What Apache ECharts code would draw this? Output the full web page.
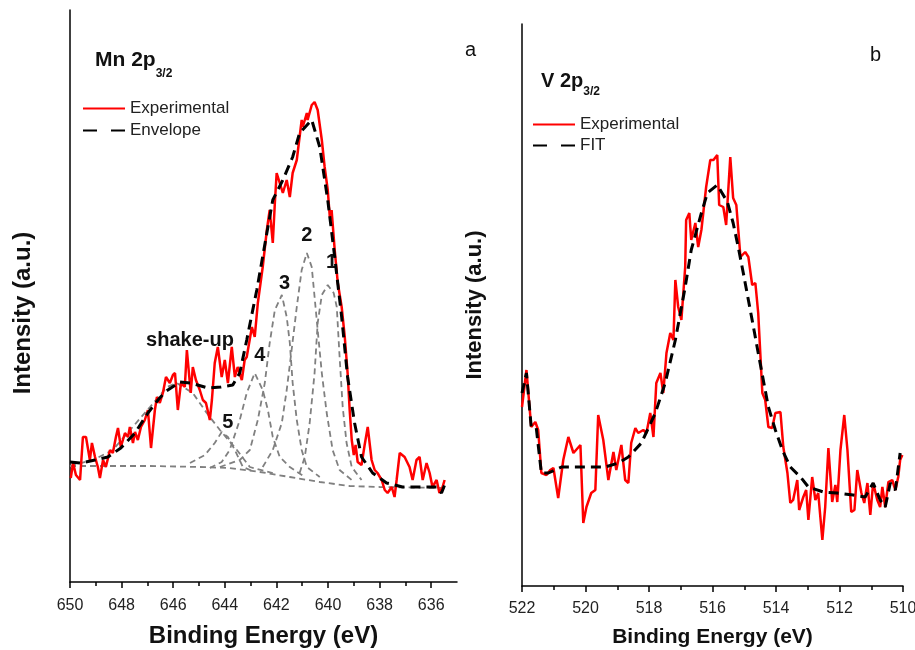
<!DOCTYPE html>
<html>
<head>
<meta charset="utf-8">
<script src="https://cdn.jsdelivr.net/npm/echarts@6/dist/echarts.min.js"></script>
<style>
  html, body { margin: 0; padding: 0; background: #fff; }
  #chart { width: 915px; height: 650px; }
</style>
</head>
<body>
<div id="chart"></div>
<script>
// ---- data: [binding energy (eV), intensity (a.u.)] ----
var mnTicks = [650, 648, 646, 644, 642, 640, 638, 636];
var mnMinor = [649, 647, 645, 643, 641, 639, 637];
var vTicks = [522, 520, 518, 516, 514, 512, 510];
var vMinor = [521, 519, 517, 515, 513, 511];

var mnExp = [[649.97,104],[649.88,119],[649.77,107],[649.61,102],[649.50,145],[649.38,145],[649.23,122],[649.15,139],
  [649.03,125],[648.92,115],[648.84,104],[648.72,122],[648.61,115],[648.45,132],[648.34,129],[648.22,145],[648.14,154],
  [648.03,135],[647.87,149],[647.75,145],[647.68,155],[647.56,139],[647.48,150],[647.37,142],[647.25,155],[647.10,162],
  [646.98,172],[646.86,134],[646.71,172],[646.63,185],[646.52,179],[646.40,189],[646.28,205],[646.13,199],[646.01,207],
  [645.93,209],[645.82,172],[645.70,199],[645.55,195],[645.47,232],[645.32,189],[645.24,215],[645.12,202],[644.97,192],
  [644.85,182],[644.73,179],[644.58,162],[644.50,182],[644.39,219],[644.27,235],[644.12,205],[644.00,222],[643.88,199],
  [643.73,235],[643.61,205],[643.50,215],[643.34,202],[643.23,222],[643.15,225],[642.95,255],[642.84,245],[642.72,279],
  [642.53,315],[642.37,352],[642.26,372],[642.14,339],[642.06,379],[641.99,409],[641.87,399],[641.75,389],[641.60,402],
  [641.48,385],[641.37,409],[641.21,422],[641.13,439],[641.02,462],[640.98,455],[640.82,469],[640.79,462],[640.63,477],
  [640.52,480],[640.40,472],[640.24,442],[640.13,415],[640.01,392],[639.93,365],[639.86,372],[639.74,332],[639.62,299],
  [639.47,275],[639.35,245],[639.24,209],[639.16,172],[639.08,142],[639.00,127],[638.93,137],[638.85,120],[638.70,117],
  [638.58,137],[638.46,155],[638.31,122],[638.19,112],[638.08,109],[637.92,102],[637.80,92],[637.69,89],[637.53,95],
  [637.42,85],[637.34,102],[637.22,129],[637.03,125],[636.84,115],[636.72,102],[636.57,122],[636.45,125],[636.33,102],
  [636.18,119],[636.06,109],[635.95,95],[635.79,102],[635.68,89],[635.56,95],[635.48,102]];

var mnEnvelope = [[650.00,120],[649.57,119],[649.03,122],[648.53,125],[648.03,134],[647.48,149],[646.98,169],[646.59,182],
  [646.32,190],[645.74,200],[645.32,199],[644.66,194],[644.15,195],[643.69,197],[643.42,209],[643.15,242],[642.76,292],
  [642.37,349],[642.14,382],[641.75,402],[641.37,425],[641.10,449],[640.63,462],[640.32,435],[640.01,382],[639.74,325],
  [639.47,265],[639.24,205],[638.97,159],[638.70,125],[638.27,109],[637.73,99],[637.11,95],[635.79,95],[635.60,89],[635.48,97]];

var mnBackground = [[650.00,116],[646.90,116],[644.97,115],[643.81,114],[642.64,110],[641.48,105],[640.32,100],
  [639.16,96],[638.00,95],[635.48,94]];
var mnShakeUp = [[650.00,116],[649.11,122],[648.34,132],[646.90,175],[646.24,195],[645.86,199],[645.24,189],
  [644.70,169],[644.19,152],[643.53,132],[643.03,115],[642.14,109]];
var mnPeak5 = [[645.35,119],[644.77,127],[644.39,139],[644.12,150],[643.88,145],[643.61,132],[643.30,115],[642.84,110]];
var mnPeak4 = [[644.58,114],[644.12,120],[643.81,132],[643.42,162],[643.15,189],[642.84,209],[642.53,192],[642.33,172],
  [642.14,145],[641.87,125],[641.48,115],[640.90,105]];
var mnPeak3 = [[644.19,115],[643.42,122],[643.03,132],[642.72,162],[642.45,199],[642.26,239],[642.06,272],[641.79,287],
  [641.60,265],[641.48,239],[641.37,199],[641.21,162],[641.02,132],[640.82,115],[640.32,105]];
var mnPeak2 = [[642.53,115],[642.14,132],[641.79,159],[641.60,192],[641.41,232],[641.21,275],[641.02,312],[640.82,329],
  [640.63,315],[640.52,285],[640.40,252],[640.24,209],[640.05,169],[639.82,132],[639.55,112],[639.08,102]];
var mnPeak1 = [[641.10,109],[640.90,125],[640.71,159],[640.52,209],[640.40,259],[640.24,287],[640.01,297],[639.78,289],
  [639.66,275],[639.55,225],[639.43,175],[639.28,139],[639.08,115],[638.70,102]];
var mnPeakLabels = [[639.86,320,'1'],[640.82,347,'2'],[641.68,299,'3'],[642.64,227,'4'],[643.88,160,'5'],[645.35,242,'shake-up']];

var vExp = [[522.00,179],[521.86,216],[521.71,159],[521.58,164],[521.49,156],[521.39,113],[521.23,111],[521.11,116],
  [521.01,118],[520.86,88],[520.70,126],[520.54,149],[520.38,133],[520.16,141],[520.07,63],[519.97,79],[519.82,93],
  [519.69,96],[519.60,171],[519.44,146],[519.28,106],[519.12,134],[519.03,116],[518.87,141],[518.75,106],[518.65,103],
  [518.56,143],[518.43,158],[518.34,153],[518.18,156],[518.08,153],[517.96,173],[517.86,149],[517.77,203],[517.64,213],
  [517.55,193],[517.45,233],[517.33,253],[517.23,246],[517.17,306],[517.08,279],[516.98,266],[516.86,319],[516.83,366],
  [516.73,373],[516.67,346],[516.54,363],[516.45,339],[516.35,356],[516.20,399],[516.07,426],[515.97,426],[515.85,431],
  [515.79,381],[515.66,379],[515.57,361],[515.44,429],[515.35,388],[515.25,381],[515.12,329],[514.97,334],[514.87,329],
  [514.75,301],[514.65,303],[514.56,273],[514.43,193],[514.34,186],[514.24,159],[514.12,158],[514.02,173],[513.86,174],
  [513.77,139],[513.64,113],[513.55,83],[513.46,86],[513.33,106],[513.27,76],[513.14,89],[513.05,96],[512.98,66],
  [512.86,109],[512.76,86],[512.67,93],[512.54,46],[512.45,79],[512.35,138],[512.23,84],[512.13,101],[512.07,84],
  [511.97,136],[511.85,171],[511.75,136],[511.63,74],[511.53,76],[511.44,116],[511.31,93],[511.22,83],[511.12,103],
  [511.03,71],[510.94,103],[510.81,86],[510.72,79],[510.65,99],[510.56,79],[510.46,104],[510.34,106],[510.24,96],
  [510.15,109],[510.09,126],[510.02,131]];

var vFit = [[522.00,193],[521.86,213],[521.71,159],[521.55,158],[521.39,113],[521.17,113],[520.76,119],[520.23,119],
  [519.38,119],[518.97,123],[518.65,129],[518.24,143],[517.80,173],[517.49,203],[517.17,246],[516.86,299],[516.67,336],
  [516.35,373],[516.16,393],[515.85,401],[515.53,384],[515.35,363],[515.19,339],[515.03,313],[514.87,286],[514.71,259],
  [514.56,233],[514.40,206],[514.24,179],[514.02,156],[513.80,136],[513.55,119],[513.23,109],[512.98,99],[512.51,94],
  [512.07,93],[511.57,91],[511.19,89],[510.94,103],[510.72,86],[510.56,79],[510.40,103],[510.24,96],[510.09,133]];

var FONT = '"Liberation Sans", Arial, Helvetica, sans-serif';
var RED = '#ff0000';
var GREY = '#808080';

function xAxisMain(grid, min, max, ticks, name, nameSize, nameGap, labelSize, labelMargin) {
  return {
    gridIndex: grid, type: 'value', min: min, max: max, inverse: true, position: 'bottom',
    axisLine: { onZero: false, lineStyle: { color: '#000', width: 1.5 } },
    axisTick: { customValues: ticks, length: 6, lineStyle: { color: '#000', width: 1.5 } },
    axisLabel: { customValues: ticks, fontSize: labelSize, color: '#222', margin: labelMargin, fontFamily: FONT },
    splitLine: { show: false },
    name: name, nameLocation: 'middle', nameGap: nameGap,
    nameTextStyle: { fontSize: nameSize, fontWeight: 'bold', color: '#111', fontFamily: FONT }
  };
}
function xAxisMinor(grid, min, max, ticks) {
  return {
    gridIndex: grid, type: 'value', min: min, max: max, inverse: true, position: 'bottom',
    axisLine: { show: false },
    axisTick: { customValues: ticks, length: 4, lineStyle: { color: '#000', width: 1.5 } },
    axisLabel: { show: false }, splitLine: { show: false }
  };
}
function yAxisPlain(grid, max) {
  return {
    gridIndex: grid, type: 'value', min: 0, max: max,
    axisLine: { show: true, lineStyle: { color: '#000', width: 1.5 } },
    axisTick: { show: false }, axisLabel: { show: false }, splitLine: { show: false }
  };
}
function greyLine(data) {
  return {
    type: 'line', xAxisIndex: 0, yAxisIndex: 0, data: data, showSymbol: false, silent: true,
    lineStyle: { color: GREY, width: 1.8, type: [6, 4] }
  };
}
// rotated y title (sits a bit below the grid middle in the original)
function yTitle(x, y, size) {
  return {
    type: 'text', x: x, y: y, rotation: Math.PI / 2,
    style: { text: 'Intensity (a.u.)', fontSize: size, fontWeight: 'bold', fontFamily: FONT,
      fill: '#111', align: 'center', verticalAlign: 'middle' }
  };
}
function panelTitle(left, top, main, size, drop) {
  return {
    type: 'text', left: left, top: top,
    style: { text: '{m|' + main + '}{s|3/2}', fill: '#111',
      rich: { m: { fontSize: size, fontWeight: 'bold', fontFamily: FONT, verticalAlign: 'top', lineHeight: size },
              s: { fontSize: 12, fontWeight: 'bold', fontFamily: FONT, verticalAlign: 'top', lineHeight: 12, padding: [drop, 0, 0, 0] } } }
  };
}

var chart = echarts.init(document.getElementById('chart'));
chart.setOption({
  animation: false,
  backgroundColor: '#fff',
  textStyle: { fontFamily: FONT },
  grid: [
    { left: 70, top: 10, width: 387, height: 572, outerBoundsMode: 'none', containLabel: false },
    { left: 522, top: 24, width: 381, height: 562, outerBoundsMode: 'none', containLabel: false }
  ],
  xAxis: [
    xAxisMain(0, 635, 650, mnTicks, 'Binding Energy (eV)', 24, 42, 16, 16),
    xAxisMinor(0, 635, 650, mnMinor),
    xAxisMain(1, 510, 522, vTicks, 'Binding Energy (eV)', 21, 41, 16, 15),
    xAxisMinor(1, 510, 522, vMinor)
  ],
  yAxis: [
    yAxisPlain(0, 572),
    yAxisPlain(1, 562)
  ],
  legend: [
    {
      left: 82, top: 100, padding: 0, orient: 'vertical', itemWidth: 42, itemHeight: 14, itemGap: 5,
      itemStyle: { opacity: 0 },
      textStyle: { fontSize: 17, color: '#222', lineHeight: 17 },
      data: [{ name: 'Experimental' }, { name: 'Envelope', lineStyle: { type: [14, 14] } }]
    },
    {
      left: 532, top: 116, padding: 0, orient: 'vertical', itemWidth: 42, itemHeight: 14, itemGap: 4,
      itemStyle: { opacity: 0 },
      textStyle: { fontSize: 17, color: '#222', lineHeight: 17 },
      data: [{ name: 'Experimental' }, { name: 'FIT', lineStyle: { type: [14, 14] } }]
    }
  ],
  graphic: [
    panelTitle(95, 50, 'Mn 2p', 21, 18),
    panelTitle(541, 71, 'V 2p', 20, 15),
    yTitle(23, 313, 24),
    yTitle(475, 305, 22),
    { type: 'text', left: 465, top: 40, style: { text: 'a', fontSize: 20, fontFamily: FONT, fill: '#111' } },
    { type: 'text', left: 870, top: 45, style: { text: 'b', fontSize: 20, fontFamily: FONT, fill: '#111' } }
  ],
  series: [
    greyLine(mnBackground),
    greyLine(mnShakeUp),
    greyLine(mnPeak5),
    greyLine(mnPeak4),
    greyLine(mnPeak3),
    greyLine(mnPeak2),
    greyLine(mnPeak1),
    {
      name: 'Experimental', type: 'line', xAxisIndex: 0, yAxisIndex: 0, data: mnExp,
      showSymbol: false, symbol: 'none', lineStyle: { color: RED, width: 2.5 }, itemStyle: { color: RED }
    },
    {
      name: 'Envelope', type: 'line', xAxisIndex: 0, yAxisIndex: 0, data: mnEnvelope,
      showSymbol: false, symbol: 'none', lineStyle: { color: '#000', width: 3, type: [10, 6] }, itemStyle: { color: '#000' }
    },
    {
      type: 'scatter', xAxisIndex: 0, yAxisIndex: 0, symbolSize: 0, silent: true,
      itemStyle: { opacity: 1 },
      data: mnPeakLabels.map(function (d) { return { value: [d[0], d[1]], name: d[2] }; }),
      label: { show: true, position: 'inside', formatter: '{b}', fontSize: 20, fontWeight: 'bold',
        color: '#111', opacity: 1, fontFamily: FONT }
    },
    {
      name: 'Experimental', type: 'line', xAxisIndex: 2, yAxisIndex: 1, data: vExp,
      showSymbol: false, symbol: 'none', lineStyle: { color: RED, width: 2.5 }, itemStyle: { color: RED }
    },
    {
      name: 'FIT', type: 'line', xAxisIndex: 2, yAxisIndex: 1, data: vFit,
      showSymbol: false, symbol: 'none', lineStyle: { color: '#000', width: 3, type: [10, 6] }, itemStyle: { color: '#000' }
    }
  ]
});
</script>
</body>
</html>
